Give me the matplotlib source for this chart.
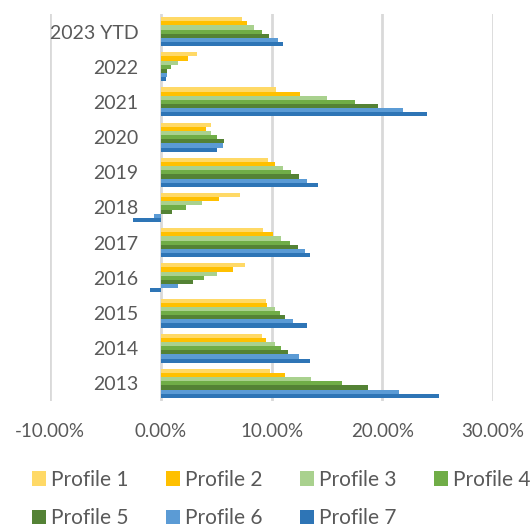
import matplotlib
matplotlib.use('Agg')
import matplotlib.pyplot as plt
import numpy as np
from matplotlib.ticker import PercentFormatter

plt.rcParams['font.family'] = ['Lato', 'DejaVu Sans']
plt.rcParams['axes.unicode_minus'] = False

# categories, bottom to top
years = ['2013', '2014', '2015', '2016', '2017', '2018', '2019', '2020', '2021', '2022', '2023 YTD']
profiles = ['Profile 1', 'Profile 2', 'Profile 3', 'Profile 4', 'Profile 5', 'Profile 6', 'Profile 7']

# returns per profile (fraction), same order as years
p1 = [0.099, 0.091, 0.095, 0.076, 0.0925, 0.072, 0.097, 0.045, 0.104, 0.033, 0.073]
p2 = [0.112, 0.095, 0.096, 0.065, 0.101, 0.053, 0.103, 0.041, 0.1255, 0.025, 0.078]
p3 = [0.136, 0.103, 0.103, 0.051, 0.109, 0.037, 0.110, 0.045, 0.150, 0.016, 0.084]
p4 = [0.164, 0.109, 0.108, 0.039, 0.117, 0.023, 0.118, 0.051, 0.175, 0.009, 0.091]
p5 = [0.187, 0.115, 0.112, 0.029, 0.124, 0.0105, 0.125, 0.057, 0.196, 0.006, 0.098]
p6 = [0.215, 0.125, 0.119, 0.016, 0.130, -0.006, 0.132, 0.056, 0.219, 0.0055, 0.106]
p7 = [0.251, 0.135, 0.132, -0.010, 0.135, -0.025, 0.142, 0.051, 0.240, 0.005, 0.1105]

series = [p1, p2, p3, p4, p5, p6, p7]
colors = ['#FFD966', '#FFC000', '#A9D18E', '#70AD47', '#548235', '#5B9BD5', '#2E75B6']

fig = plt.figure(figsize=(5.31, 5.26), dpi=100)
ax = fig.add_axes([50/531, 1 - 401/526, 443/531, 387/526])

y = np.arange(len(years))
h = 0.118
bars = []
for i, (vals, c) in enumerate(zip(series, colors)):
    b = ax.barh(y + (3 - i) * h, vals, height=h, color=c, label=profiles[i], zorder=3)
    bars.append(b)

ax.set_xlim(-0.1, 0.3)
ax.set_ylim(-0.5, len(years) - 0.5)
ax.set_xticks([-0.1, 0.0, 0.1, 0.2, 0.3])
ax.xaxis.set_major_formatter(PercentFormatter(1.0, decimals=2))
ax.set_yticks(y)
ax.set_yticklabels(years)

ax.grid(axis='x', color='#D9D9D9', linewidth=2, zorder=0)
for s in ax.spines.values():
    s.set_visible(False)
# category labels sit next to the zero line
ax.spines['left'].set_position(('data', 0))
ax.tick_params(axis='y', length=0, pad=16, labelsize=14, labelcolor='#595959')
ax.tick_params(axis='x', length=0, pad=16, labelsize=13.5, labelcolor='#595959')

order = [0, 4, 1, 5, 2, 6, 3]
handles = [bars[k] for k in order]
labels = [profiles[k] for k in order]
fig.legend(handles, labels, ncol=4, loc='upper left', bbox_to_anchor=(13/531, 1 - 451/526),
           frameon=False, fontsize=15, labelcolor='#595959',
           handlelength=0.67, handleheight=0.67, handletextpad=0.25,
           columnspacing=1.8, labelspacing=0.88)

fig.savefig('out.png', dpi=100)
